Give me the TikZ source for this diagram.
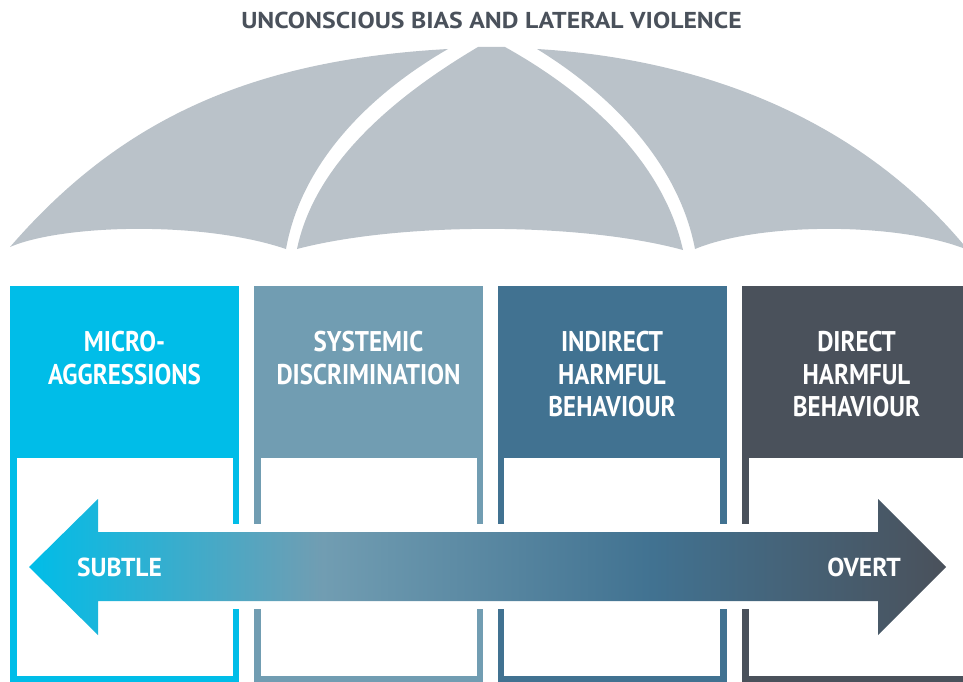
\documentclass[tikz,border=0pt]{standalone}
\usepackage{fontspec}
\setmainfont{PT Sans}
\newfontfamily\titlefont[FakeStretch=1.12]{PT Sans}
\newfontfamily\headfont[FakeStretch=0.877]{PT Sans}
\newfontfamily\endfont[FakeStretch=0.98]{PT Sans}
\usetikzlibrary{positioning}
\definecolor{umbrella}{RGB}{186,194,201}
\definecolor{micro}{RGB}{0,189,232}
\definecolor{systemic}{RGB}{113,157,178}
\definecolor{indirect}{RGB}{65,114,145}
\definecolor{direct}{RGB}{74,81,91}
\pgfdeclarehorizontalshading{subtleovert}{100bp}{color(0bp)=(micro); color(25bp)=(micro); color(41bp)=(systemic); color(59bp)=(indirect); color(75bp)=(direct); color(100bp)=(direct)}
\tikzstyle{colbox} = [rectangle, minimum width=229pt, minimum height=398pt, inner sep=0pt]
\tikzstyle{colinner} = [rectangle, fill=white, minimum width=216pt, minimum height=217.5pt, inner sep=0pt]
\tikzstyle{heading} = [align=center, text=white, font=\headfont\bfseries\fontsize{28.5}{32.5}\selectfont, inner sep=0pt, anchor=north]
\tikzstyle{canopy} = [fill=umbrella]
\tikzstyle{endtext} = [text=white, font=\endfont\bfseries\fontsize{26}{30}\selectfont, inner sep=0pt]

\begin{document}
\begin{tikzpicture}[x=1pt, y=-1pt]
\useasboundingbox (0,0) rectangle (963,682);

% Umbrella
\node (title) at (491.5,20) [text=direct, font=\titlefont\bfseries\fontsize{23}{28}\selectfont] {UNCONSCIOUS BIAS AND LATERAL VIOLENCE};
\fill [canopy] (10,247) .. controls (120,120) and (250,60) .. (448,49)
  .. controls (360,100) and (300,170) .. (286,249)
  .. controls (200,220) and (60,225) .. (10,247) -- cycle;
\fill [canopy] (478,47) -- (505,47)
  .. controls (600,100) and (665,170) .. (683,250)
  .. controls (580,222) and (400,222) .. (297,249)
  .. controls (313,172) and (380,105) .. (478,47) -- cycle;
\fill [canopy] (537,49) .. controls (720,60) and (870,130) .. (968,250)
  .. controls (900,222) and (760,222) .. (695,249)
  .. controls (680,170) and (620,100) .. (537,49) -- cycle;

% Columns
\node (micro) [colbox, fill=micro] at (124.5,485) {};
\node (systemic) [colbox, fill=systemic] at (368.5,485) {};
\node (indirect) [colbox, fill=indirect] at (612,485) {};
\node (direct) [colbox, fill=direct] at (856.5,485) {};
\node (microin) [colinner] at (124.5,566.75) {};
\node (systemicin) [colinner] at (368.5,566.75) {};
\node (indirectin) [colinner] at (612,566.75) {};
\node (directin) [colinner] at (856.5,566.75) {};

\node (microtxt) [heading] at (124.5,331) {MICRO-\\AGGRESSIONS};
\node (systemictxt) [heading] at (368.5,331) {SYSTEMIC\\DISCRIMINATION};
\node (indirecttxt) [heading] at (612,331) {INDIRECT\\HARMFUL\\BEHAVIOUR};
\node (directtxt) [heading] at (856.5,331) {DIRECT\\HARMFUL\\BEHAVIOUR};

% Arrow
\fill [white] (98,524) rectangle (878,609);
\shade [shading=subtleovert] (29,567) -- (98,499) -- (98,532) -- (878,532) -- (878,499)
  -- (946,567) -- (878,635) -- (878,601) -- (98,601) -- (98,635) -- cycle;
\node (subtle) [endtext, anchor=west] at (77,567) {SUBTLE};
\node (overt) [endtext, anchor=east] at (901,567) {OVERT};

\end{tikzpicture}
\end{document}
